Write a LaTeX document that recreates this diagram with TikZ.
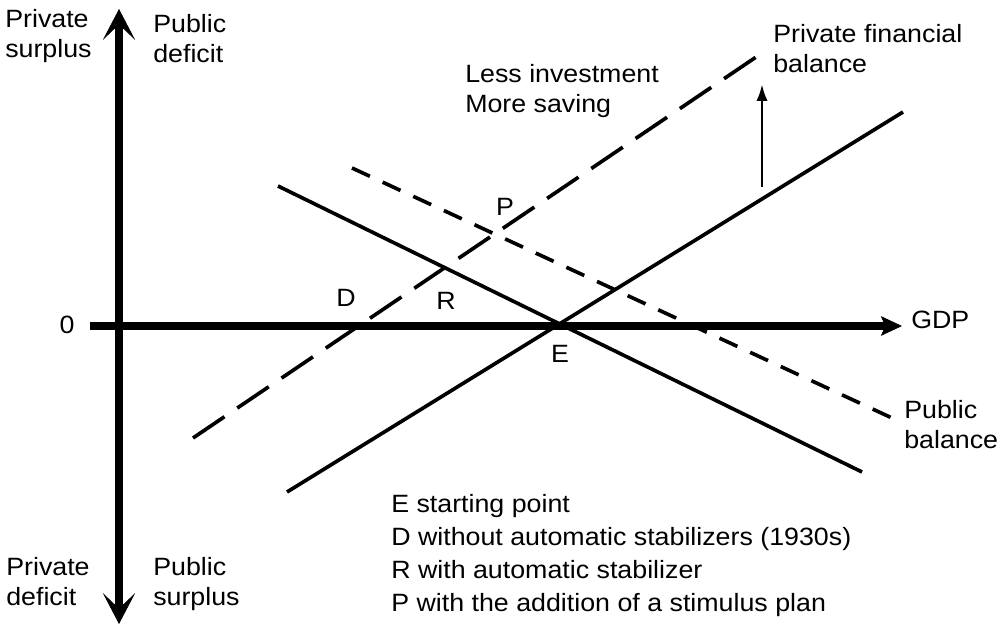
\documentclass[tikz,border=0pt]{standalone}
\usepackage{fontspec}
\setmainfont{Liberation Sans}[FakeStretch=1.07]
\usetikzlibrary{arrows.meta}
\newcommand{\chartfont}{\fontsize{17.8pt}{21.5pt}\selectfont}
\newcommand{\legendfont}{\fontsize{17.8pt}{23.5pt}\selectfont}

\begin{document}
\begin{tikzpicture}[x=0.025cm, y=-0.025cm,
    every node/.style={font=\chartfont, inner sep=0pt},
    axis/.style={line width=5pt},
    balance/.style={line width=2.6pt},
    longdash/.style={balance, dash pattern=on 27pt off 11pt},
    shortdash/.style={balance, dash pattern=on 14pt off 10pt},
    lbl/.style={align=left, anchor=north west}]
  \useasboundingbox (0,0) rectangle (1007,625);
  % axes
  \draw[axis, {Stealth[length=22pt,width=23pt,inset=11pt,line width=0.5pt]}-{Stealth[length=22pt,width=23pt,inset=11pt,line width=0.5pt]}]
    (119,624) -- (119,9);
  \draw[axis, -{Stealth[length=15pt,width=14pt,inset=3pt,line width=0.5pt]}] (90,326) -- (902,326);
  \node[anchor=base] (zero) at (67,333) {0};
  \node[anchor=base west] (gdp) at (911,328) {GDP};
  \node[lbl] (privsur) at (5,9) {Private\\surplus};
  \node[lbl] (pubdef) at (153,14) {Public\\deficit};
  \node[lbl] (privdef) at (6,557) {Private\\deficit};
  \node[lbl] (pubsur) at (153,557) {Public\\surplus};
  % balances
  \draw[balance] (278,186) -- (862,472);
  \draw[balance] (287,492) -- (903,112);
  \draw[longdash] (193,438) -- (765,51);
  \draw[shortdash] (352,168) -- (892,418);
  \draw[line width=2pt, -{Latex[length=12pt,width=8pt]}] (762,187) -- (762,84);
  \node[lbl] (invest) at (465,64) {Less investment\\More saving};
  \node[lbl] (pfb) at (773,24) {Private financial\\balance};
  \node[lbl] (pb) at (904,400) {Public\\balance};
  % points
  \node[anchor=base] (ptP) at (505,215) {P};
  \node[anchor=base] (ptD) at (346,306) {D};
  \node[anchor=base] (ptR) at (446,309) {R};
  \node[anchor=base] (ptE) at (560,362) {E};
  \node[lbl, font=\legendfont] (legend) at (391,494)
    {E starting point\\D without automatic stabilizers (1930s)\\R with automatic stabilizer\\P with the addition of a stimulus plan};
\end{tikzpicture}
\end{document}
